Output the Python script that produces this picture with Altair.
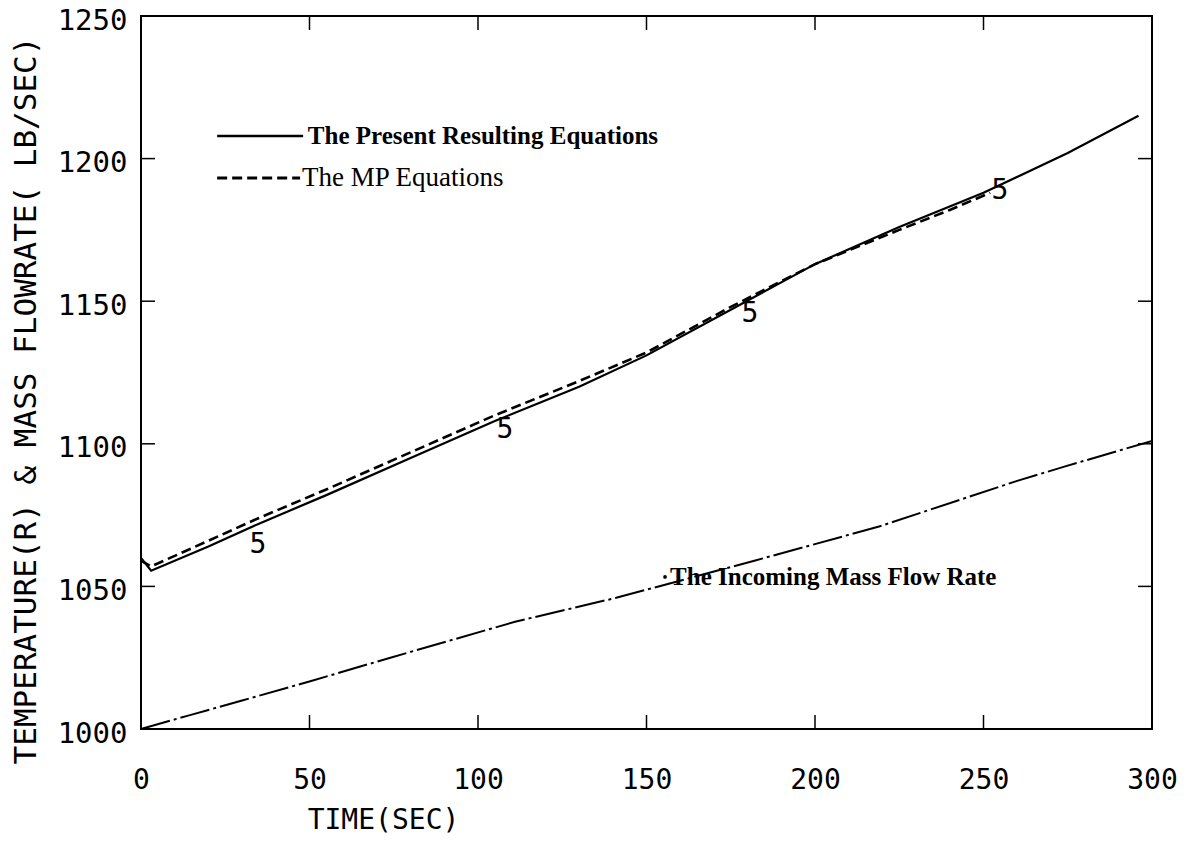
import altair as alt
import pandas as pd

# ---- data ----
present_t = [0, 3, 20, 35, 55, 80, 105, 130, 150, 175, 200, 225, 250, 275, 296]
present_v = [1060, 1055.5, 1064, 1072, 1082, 1095, 1108, 1120, 1131, 1147, 1163, 1176, 1188, 1202, 1215]

mp_t = [0, 3, 20, 35, 55, 80, 105, 130, 150, 175, 200, 225, 240, 252]
mp_v = [1059, 1057, 1066, 1074, 1084, 1097, 1110, 1122, 1132, 1148, 1163, 1175, 1182, 1188]

flow_t = [0, 14, 30, 51, 74, 111, 141, 182, 219, 260, 274, 300]
flow_v = [1000, 1004.7, 1010, 1017, 1025, 1037.6, 1046, 1059, 1071, 1087, 1092, 1101]

x_ticks = [0, 50, 100, 150, 200, 250, 300]
y_ticks = [1000, 1050, 1100, 1150, 1200, 1250]
inner_x_ticks = [50, 100, 150, 200, 250]
inner_y_ticks = [1050, 1100, 1150, 1200]

curve_label_t = [34.7, 108, 180.7, 254.9]
curve_label_v = [1064.5, 1104.8, 1145.5, 1188.6]
curve_label_text = ["5", "5", "5", "5"]

legend_names = ["The Present Resulting Equations", "The MP Equations"]
legend_t0 = [22.6, 22.6]
legend_t1 = [48.1, 47.2]
legend_v = [1207.9, 1193.2]
legend_text_t = [49.5, 47.8]

flow_label = "The Incoming Mass Flow Rate"
flow_label_t = 157
flow_label_v = 1053.3
flow_dot_t = 155.5

x_title = "TIME(SEC)"
y_title = "TEMPERATURE(R) & MASS FLOWRATE( LB/SEC)"

W, H = 1011, 713
MONO = "DejaVu Sans Mono"
SERIF = "Liberation Serif"

xs = alt.Scale(domain=[0, 300], nice=False, zero=False)
ys = alt.Scale(domain=[1000, 1250], nice=False, zero=False)

x_axis = alt.Axis(
    values=x_ticks, ticks=False, tickSize=0, domain=False, grid=False, format="d",
    labelFont=MONO, labelFontSize=28, labelColor="black", labelPadding=37,
    labelFontWeight="normal", labelFlush=False,
    titleFont=MONO, titleFontSize=28, titleFontWeight="normal",
    titleColor="black", titleX=242, titleY=91, titleAlign="center",
    titleBaseline="middle",
)
y_axis = alt.Axis(
    values=y_ticks, ticks=False, tickSize=0, domain=False, grid=False, format="d",
    labelFont=MONO, labelFontSize=29, labelColor="black", labelPadding=14,
    labelFontWeight="normal", labelFlush=False, labelOffset=4,
    titleFont=MONO, titleFontSize=31, titleFontWeight="normal", titleColor="black",
    titleX=-115, titleY=384, titleAngle=-90, titleAlign="center",
    titleBaseline="middle",
)


def X(field="t"):
    return alt.X(f"{field}:Q", scale=xs, axis=x_axis, title=x_title)


def Y(field="v"):
    return alt.Y(f"{field}:Q", scale=ys, axis=y_axis, title=y_title)


present_df = pd.DataFrame({"t": present_t, "v": present_v})
mp_df = pd.DataFrame({"t": mp_t, "v": mp_v})
flow_df = pd.DataFrame({"t": flow_t, "v": flow_v})

base_line = alt.Chart(present_df).mark_line(color="black", strokeWidth=2.2).encode(
    x=X(), y=Y())

mp_line = alt.Chart(mp_df).mark_line(
    color="black", strokeWidth=2.6, strokeDash=[10, 5]
).encode(x=X(), y=Y())

flow_line = alt.Chart(flow_df).mark_line(
    color="black", strokeWidth=2, strokeDash=[30, 4, 3, 4]
).encode(x=X(), y=Y())

# inward ticks on all four sides
xt_df = pd.DataFrame({"t": inner_x_ticks})
yt_df = pd.DataFrame({"v": inner_y_ticks})
tick_bottom = alt.Chart(xt_df).mark_rule(color="black", strokeWidth=1.5).encode(
    x=X(), y=alt.value(H), y2=alt.value(H - 14))
tick_top = alt.Chart(xt_df).mark_rule(color="black", strokeWidth=1.5).encode(
    x=X(), y=alt.value(0), y2=alt.value(14))
tick_left = alt.Chart(yt_df).mark_rule(color="black", strokeWidth=1.5).encode(
    y=Y(), x=alt.value(0), x2=alt.value(14))
tick_right = alt.Chart(yt_df).mark_rule(color="black", strokeWidth=1.5).encode(
    y=Y(), x=alt.value(W), x2=alt.value(W - 14))

# curve labels "5"
cl_df = pd.DataFrame({"t": curve_label_t, "v": curve_label_v, "s": curve_label_text})
curve_labels = alt.Chart(cl_df).mark_text(
    font=MONO, fontSize=28, color="black", align="center", baseline="middle"
).encode(x=X(), y=Y(), text="s:N")

# legend (drawn inside the plot)
leg_df = pd.DataFrame({
    "name": legend_names, "t0": legend_t0, "t1": legend_t1, "v": legend_v,
    "tt": legend_text_t,
})
leg_solid = alt.Chart(leg_df.iloc[[0]]).mark_rule(color="black", strokeWidth=2.6).encode(
    x=X("t0"), x2="t1:Q", y=Y())
leg_dash = alt.Chart(leg_df.iloc[[1]]).mark_rule(
    color="black", strokeWidth=2.8, strokeDash=[10, 5]).encode(
    x=X("t0"), x2="t1:Q", y=Y())
leg_text1 = alt.Chart(leg_df.iloc[[0]]).mark_text(
    font=SERIF, fontSize=25, fontWeight="bold", color="black", align="left",
    baseline="middle").encode(x=X("tt"), y=Y(), text="name:N")
leg_text2 = alt.Chart(leg_df.iloc[[1]]).mark_text(
    font=SERIF, fontSize=27, fontWeight="normal", color="black", align="left",
    baseline="middle").encode(x=X("tt"), y=Y(), text="name:N")

fl_df = pd.DataFrame({"t": [flow_label_t], "v": [flow_label_v], "s": [flow_label],
                      "td": [flow_dot_t]})
flow_text = alt.Chart(fl_df).mark_text(
    font=SERIF, fontSize=25, fontWeight="bold", color="black", align="left",
    baseline="middle").encode(x=X(), y=Y(), text="s:N")
flow_dot = alt.Chart(fl_df).mark_point(
    filled=True, color="black", size=14, opacity=1).encode(x=X("td"), y=Y())

chart = alt.layer(
    base_line, mp_line, flow_line,
    tick_bottom, tick_top, tick_left, tick_right,
    curve_labels, leg_solid, leg_dash, leg_text1, leg_text2, flow_text, flow_dot,
).properties(
    width=W, height=H,
    autosize=alt.AutoSizeParams(type="none"),
    padding={"left": 141, "top": 16, "right": 45, "bottom": 117},
    background="white",
).configure_view(stroke="black", strokeWidth=2)

chart.save("out.html", embed_options={"renderer": "svg", "actions": False})
